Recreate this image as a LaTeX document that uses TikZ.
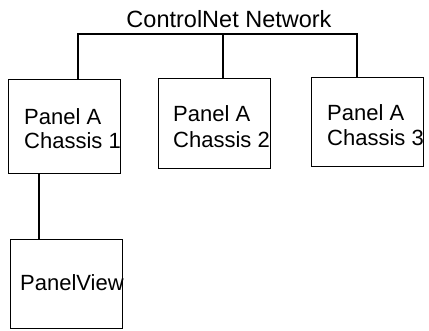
\documentclass[tikz,border=0pt]{standalone}
\usepackage{fontspec}
\setmainfont{Liberation Sans}
\begin{document}
\begin{tikzpicture}[x=1pt,y=-1pt,
  box/.style={draw, line width=1.1pt, anchor=north west, inner sep=0pt},
  wire/.style={line width=1.1pt},
  lbl/.style={anchor=base west, inner sep=0pt, font=\fontsize{22}{24}\selectfont}]
\useasboundingbox (0,0) rectangle (429,330);
\node[box, minimum width=112pt, minimum height=94pt] (c1) at (8,79) {};
\node[box, minimum width=112pt, minimum height=90pt] (c2) at (158,78) {};
\node[box, minimum width=112pt, minimum height=89pt] (c3) at (311,77) {};
\node[box, minimum width=112pt, minimum height=89pt] (pv) at (10,239) {};
\node[anchor=base, inner sep=0pt, font=\fontsize{23.5}{25}\selectfont] (title) at (229,27) {ControlNet Network};
\node[lbl] (l1a) at (24,124) {Panel A};
\node[lbl] (l1b) at (24,148) {Chassis 1};
\node[lbl] (l2a) at (173,121) {Panel A};
\node[lbl] (l2b) at (173,147) {Chassis 2};
\node[lbl] (l3a) at (327,120) {Panel A};
\node[lbl] (l3b) at (327,145) {Chassis 3};
\node[lbl] (l4) at (20,290) {PanelView};
\coordinate (busL) at (78,34);
\coordinate (busM) at (223,34);
\coordinate (busR) at (357,34);
\coordinate (pvx) at (39,200);
\draw[wire] (c1.north -| busL) -- (busL) -- (busR) -- (c3.north -| busR);
\draw[wire] (busM) -- (c2.north -| busM);
\draw[wire] (c1.south -| pvx) -- (pv.north -| pvx);
\end{tikzpicture}
\end{document}
